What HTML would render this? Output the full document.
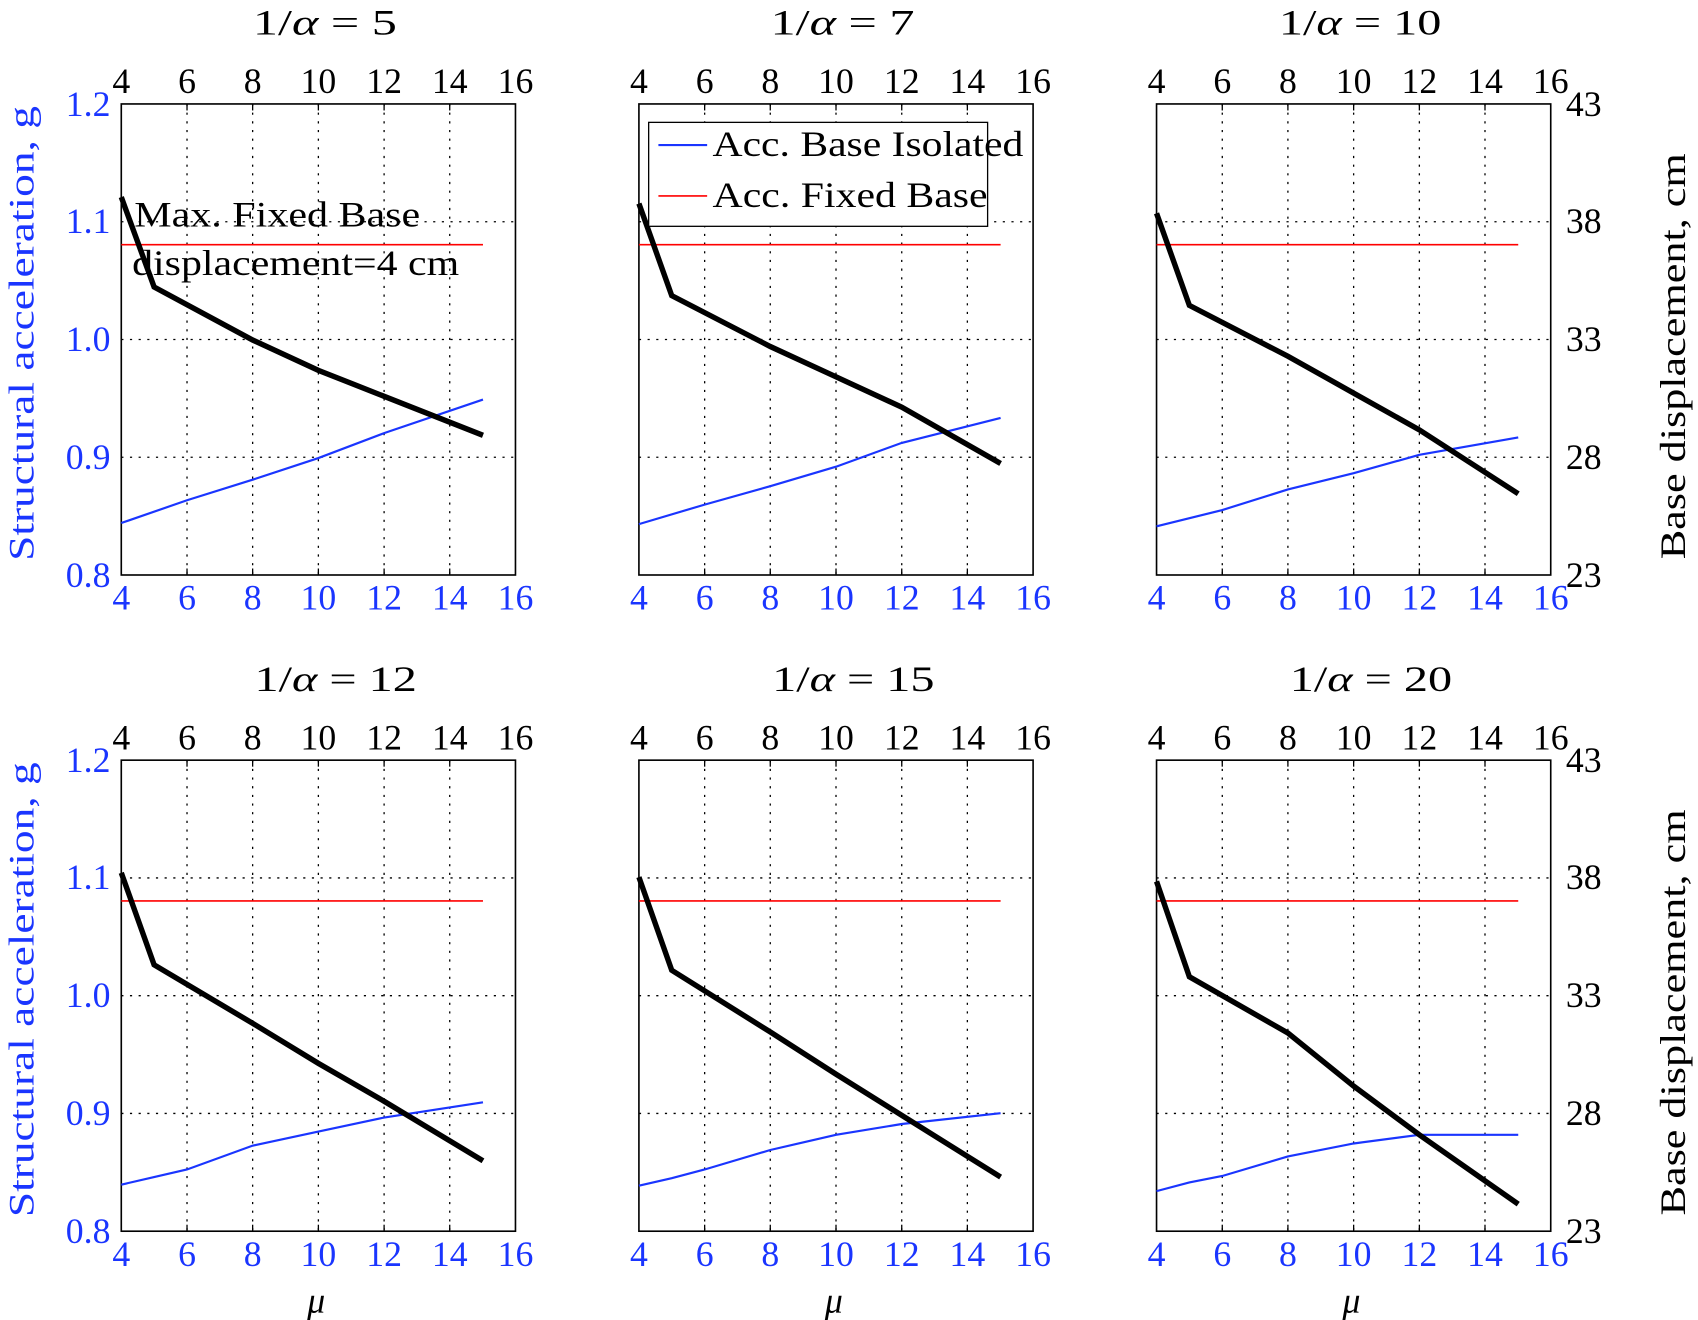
<!DOCTYPE html>
<html><head><meta charset="utf-8"><style>
html,body{margin:0;padding:0;background:#fff}
svg{display:block}
text{font-family:"Liberation Serif",serif;font-size:33px}
</style></head><body>
<svg width="1698" height="1320" viewBox="0 0 1568 1219" preserveAspectRatio="none" xmlns="http://www.w3.org/2000/svg">
<defs>
<g id="grid" stroke="#000" stroke-width="1.2" stroke-dasharray="2,6" fill="none">
<line x1="172.7" y1="0" x2="172.7" y2="435"/><line x1="233.3" y1="0" x2="233.3" y2="435"/>
<line x1="294" y1="0" x2="294" y2="435"/><line x1="354.7" y1="0" x2="354.7" y2="435"/>
<line x1="415.3" y1="0" x2="415.3" y2="435"/>
<line x1="112" y1="108.75" x2="476" y2="108.75"/><line x1="112" y1="217.5" x2="476" y2="217.5"/><line x1="112" y1="326.25" x2="476" y2="326.25"/>
</g>
<g id="frame">
<use href="#grid"/>
<rect x="112" y="0" width="364" height="435" fill="none" stroke="#000" stroke-width="1.5"/>
<g stroke="#000" stroke-width="1.2">
<line x1="172.7" y1="0" x2="172.7" y2="6"/><line x1="233.3" y1="0" x2="233.3" y2="6"/><line x1="294" y1="0" x2="294" y2="6"/><line x1="354.7" y1="0" x2="354.7" y2="6"/><line x1="415.3" y1="0" x2="415.3" y2="6"/>
<line x1="172.7" y1="435" x2="172.7" y2="429"/><line x1="233.3" y1="435" x2="233.3" y2="429"/><line x1="294" y1="435" x2="294" y2="429"/><line x1="354.7" y1="435" x2="354.7" y2="429"/><line x1="415.3" y1="435" x2="415.3" y2="429"/>
</g>
<g text-anchor="middle">
<text x="112" y="-10">4</text><text x="172.7" y="-10">6</text><text x="233.3" y="-10">8</text><text x="294" y="-10">10</text><text x="354.7" y="-10">12</text><text x="415.3" y="-10">14</text><text x="476" y="-10">16</text>
</g>
<g text-anchor="middle" fill="#1a35ff">
<text x="112" y="467">4</text><text x="172.7" y="467">6</text><text x="233.3" y="467">8</text><text x="294" y="467">10</text><text x="354.7" y="467">12</text><text x="415.3" y="467">14</text><text x="476" y="467">16</text>
</g>
</g>
<g id="leftax" fill="#1a35ff" text-anchor="end">
<text x="102" y="11">1.2</text><text x="102" y="119">1.1</text><text x="102" y="228">1.0</text><text x="102" y="337">0.9</text><text x="102" y="446">0.8</text>
<text transform="translate(31,212) rotate(-90)" text-anchor="middle" textLength="420" lengthAdjust="spacingAndGlyphs">Structural acceleration, g</text>
</g>
<g id="rightax" text-anchor="start">
<text x="1446" y="11">43</text><text x="1446" y="119">38</text><text x="1446" y="228">33</text><text x="1446" y="337">28</text><text x="1446" y="446">23</text>
<text transform="translate(1556,233) rotate(-90)" text-anchor="middle" textLength="375" lengthAdjust="spacingAndGlyphs">Base displacement, cm</text>
</g>
</defs>

<!-- Top row -->
<g transform="translate(0,96)">
<use href="#frame"/><use href="#leftax"/>
<text x="300" y="-64" text-anchor="middle" textLength="133" lengthAdjust="spacingAndGlyphs">1/<tspan font-style="italic">α</tspan> = 5</text>
<line x1="112" y1="130" x2="446" y2="130" stroke="#ff0000" stroke-width="1.5"/>
<polyline points="112,387 172.7,366 233.3,347 294,327 354.7,304 446,273" fill="none" stroke="#1a35ff" stroke-width="2"/>
<polyline points="112,86 142.3,169 233.3,218 294,246 354.7,270 446,306" fill="none" stroke="#000" stroke-width="5"/>
<text x="124" y="113" textLength="264" lengthAdjust="spacingAndGlyphs">Max. Fixed Base</text>
<text x="122" y="158" textLength="302" lengthAdjust="spacingAndGlyphs">displacement=4 cm</text>
</g>
<g transform="translate(478,96)">
<use href="#frame"/>
<text x="300" y="-64" text-anchor="middle" textLength="133" lengthAdjust="spacingAndGlyphs">1/<tspan font-style="italic">α</tspan> = 7</text>
<line x1="112" y1="130" x2="446" y2="130" stroke="#ff0000" stroke-width="1.5"/>
<polyline points="112,388 172.7,370 233.3,353 294,335 354.7,313 446,290" fill="none" stroke="#1a35ff" stroke-width="2"/>
<polyline points="112,92 142.3,177 233.3,224 294,252 354.7,280 446,332" fill="none" stroke="#000" stroke-width="5"/>
<rect x="121" y="17" width="313" height="96" fill="#fff" stroke="#000" stroke-width="1.2"/>
<line x1="130" y1="38" x2="175" y2="38" stroke="#1a35ff" stroke-width="2"/>
<text x="180" y="48" textLength="287" lengthAdjust="spacingAndGlyphs">Acc. Base Isolated</text>
<line x1="130" y1="85" x2="175" y2="85" stroke="#ff0000" stroke-width="1.5"/>
<text x="180" y="95" textLength="254" lengthAdjust="spacingAndGlyphs">Acc. Fixed Base</text>
</g>
<g transform="translate(956,96)">
<use href="#frame"/>
<text x="300" y="-64" text-anchor="middle" textLength="150" lengthAdjust="spacingAndGlyphs">1/<tspan font-style="italic">α</tspan> = 10</text>
<line x1="112" y1="130" x2="446" y2="130" stroke="#ff0000" stroke-width="1.5"/>
<polyline points="112,390 172.7,375 233.3,356 294,341 354.7,324 446,308" fill="none" stroke="#1a35ff" stroke-width="2"/>
<polyline points="112,101 142.3,186 233.3,233 294,267 354.7,301 446,360" fill="none" stroke="#000" stroke-width="5"/>
</g>
<g transform="translate(0,96)"><use href="#rightax"/></g>

<!-- Bottom row -->
<g transform="translate(0,702)">
<use href="#frame"/><use href="#leftax"/>
<text x="310" y="-64" text-anchor="middle" textLength="150" lengthAdjust="spacingAndGlyphs">1/<tspan font-style="italic">α</tspan> = 12</text>
<line x1="112" y1="130" x2="446" y2="130" stroke="#ff0000" stroke-width="1.5"/>
<polyline points="112,392 142.3,385 172.7,378 233.3,356 294,343 354.7,330 446,316" fill="none" stroke="#1a35ff" stroke-width="2"/>
<polyline points="112,104 142.3,189 233.3,243 294,280 354.7,315 446,370" fill="none" stroke="#000" stroke-width="5"/>
<text x="292" y="510" text-anchor="middle" font-style="italic">μ</text>
</g>
<g transform="translate(478,702)">
<use href="#frame"/>
<text x="310" y="-64" text-anchor="middle" textLength="150" lengthAdjust="spacingAndGlyphs">1/<tspan font-style="italic">α</tspan> = 15</text>
<line x1="112" y1="130" x2="446" y2="130" stroke="#ff0000" stroke-width="1.5"/>
<polyline points="112,393 142.3,386 172.7,378 233.3,360 294,346 354.7,336 446,326" fill="none" stroke="#1a35ff" stroke-width="2"/>
<polyline points="112,108 142.3,194 233.3,251 294,290 354.7,328 446,385" fill="none" stroke="#000" stroke-width="5"/>
<text x="292" y="510" text-anchor="middle" font-style="italic">μ</text>
</g>
<g transform="translate(956,702)">
<use href="#frame"/>
<text x="310" y="-64" text-anchor="middle" textLength="150" lengthAdjust="spacingAndGlyphs">1/<tspan font-style="italic">α</tspan> = 20</text>
<line x1="112" y1="130" x2="446" y2="130" stroke="#ff0000" stroke-width="1.5"/>
<polyline points="112,398 142.3,390 172.7,384 233.3,366 294,354 354.7,346 446,346" fill="none" stroke="#1a35ff" stroke-width="2"/>
<polyline points="112,112 142.3,200 233.3,252 294,301 354.7,346 446,410" fill="none" stroke="#000" stroke-width="5"/>
<text x="292" y="510" text-anchor="middle" font-style="italic">μ</text>
</g>
<g transform="translate(0,702)"><use href="#rightax"/></g>
</svg>
</body></html>
